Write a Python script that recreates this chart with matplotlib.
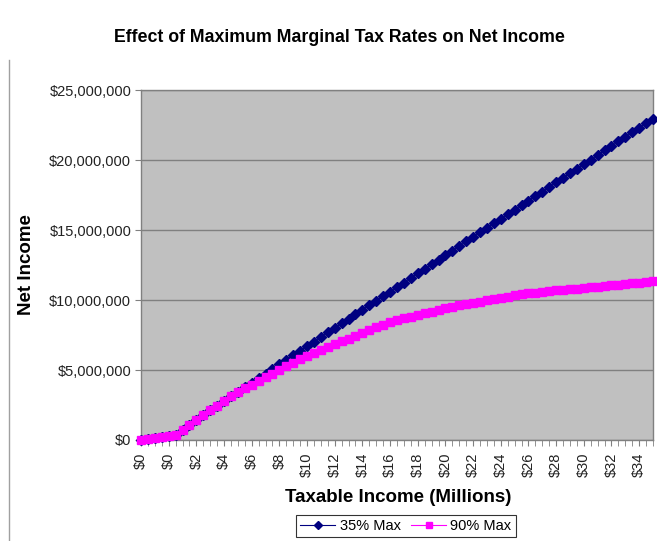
import matplotlib
matplotlib.use("Agg")
import matplotlib.pyplot as plt
from matplotlib.ticker import FuncFormatter, FixedLocator

plt.rcParams['font.family'] = ['Liberation Sans', 'DejaVu Sans']

# Taxable income in millions of dollars (category axis)
taxable_millions = [0.0, 0.1, 0.2, 0.3, 0.4,
                    0.5, 1.0, 1.5, 2.0, 2.5, 3.0, 3.5, 4.0, 4.5, 5.0,
                    5.5, 6.0, 6.5, 7.0, 7.5, 8.0, 8.5, 9.0, 9.5, 10.0,
                    10.5, 11.0, 11.5, 12.0, 12.5, 13.0, 13.5, 14.0, 14.5, 15.0,
                    15.5, 16.0, 16.5, 17.0, 17.5, 18.0, 18.5, 19.0, 19.5, 20.0,
                    20.5, 21.0, 21.5, 22.0, 22.5, 23.0, 23.5, 24.0, 24.5, 25.0,
                    25.5, 26.0, 26.5, 27.0, 27.5, 28.0, 28.5, 29.0, 29.5, 30.0,
                    30.5, 31.0, 31.5, 32.0, 32.5, 33.0, 33.5, 34.0, 34.5, 35.0]

# Net income in millions of dollars, 35% top marginal rate
net_35_max = [0.00, 0.08, 0.16, 0.24, 0.31,
              0.38, 0.74, 1.09, 1.44, 1.78, 2.12, 2.46, 2.79, 3.12, 3.45,
              3.78, 4.10, 4.43, 4.75, 5.08, 5.40, 5.73, 6.05, 6.38, 6.70,
              7.03, 7.35, 7.68, 8.00, 8.33, 8.65, 8.98, 9.30, 9.63, 9.95,
              10.28, 10.60, 10.93, 11.25, 11.58, 11.90, 12.23, 12.55, 12.88, 13.20,
              13.53, 13.85, 14.18, 14.50, 14.83, 15.15, 15.48, 15.80, 16.13, 16.45,
              16.78, 17.10, 17.43, 17.75, 18.08, 18.40, 18.73, 19.05, 19.38, 19.70,
              20.03, 20.35, 20.68, 21.00, 21.33, 21.65, 21.98, 22.30, 22.63, 22.95]

# Net income in millions of dollars, 90% top marginal rate
net_90_max = [0.00, 0.08, 0.16, 0.24, 0.31,
              0.38, 0.74, 1.09, 1.44, 1.78, 2.12, 2.46, 2.79, 3.11, 3.42,
              3.69, 3.96, 4.22, 4.48, 4.74, 5.00, 5.26, 5.51, 5.76, 6.01,
              6.23, 6.44, 6.65, 6.85, 7.05, 7.25, 7.45, 7.65, 7.85, 8.04,
              8.23, 8.41, 8.55, 8.68, 8.81, 8.93, 9.05, 9.17, 9.29, 9.41,
              9.52, 9.62, 9.71, 9.80, 9.89, 9.98, 10.07, 10.16, 10.25, 10.33,
              10.41, 10.48, 10.53, 10.58, 10.63, 10.68, 10.73, 10.78, 10.82, 10.87,
              10.92, 10.96, 11.01, 11.06, 11.10, 11.15, 11.20, 11.24, 11.29, 11.33]

series_names = ["35% Max", "90% Max"]
y_ticks = [0, 5_000_000, 10_000_000, 15_000_000, 20_000_000, 25_000_000]

navy = "#000080"
magenta = "#FF00FF"

fig = plt.figure(figsize=(6.57, 5.41), dpi=100)
ax = fig.add_axes([141 / 657, 1 - 440 / 541, 512 / 657, 350 / 541])
ax.set_facecolor("#C0C0C0")

cats = list(range(len(taxable_millions)))
y35 = [v * 1_000_000 for v in net_35_max]
y90 = [v * 1_000_000 for v in net_90_max]

ax.plot(cats, y35, color=navy, lw=0.8, marker="D", ms=4.8,
        mec=navy, mfc=navy, label=series_names[0], zorder=3, clip_on=False)
ax.plot(cats, y90, color=magenta, lw=0.8, marker="s", ms=5.5,
        mec=magenta, mfc=magenta, label=series_names[1], zorder=4, clip_on=False)

ax.set_xlim(0, len(cats) - 1)
ax.set_ylim(0, 25_000_000)

# y axis
ax.yaxis.set_major_locator(FixedLocator(y_ticks))
ax.yaxis.set_major_formatter(FuncFormatter(lambda v, p: "${:,.0f}".format(v)))
ax.grid(axis="y", color="#808080", lw=1.0)
ax.set_axisbelow(True)

# x axis: label every 4th category, tick at every category
label_idx = cats[::4]
ax.xaxis.set_major_locator(FixedLocator(label_idx))
ax.xaxis.set_minor_locator(FixedLocator(cats))
ax.set_xticklabels(["${:,.0f}".format(taxable_millions[i]) for i in label_idx],
                   rotation=90)

ax.tick_params(axis="both", which="both", direction="out", color="#808080",
               labelcolor="#222222", labelsize=10.5)
ax.tick_params(axis="x", which="both", length=4, pad=5)
ax.tick_params(axis="y", which="major", length=4, pad=3)

for side in ["left", "bottom", "top", "right"]:
    ax.spines[side].set_color("#808080")
    ax.spines[side].set_linewidth(1.0)

fig.text(0.5 * (112 + 567) / 657, 1 - 37 / 541,
         "Effect of Maximum Marginal Tax Rates on Net Income",
         ha="center", va="center", fontsize=12.8, fontweight="bold")
fig.text(27 / 657, 1 - 265 / 541, "Net Income", rotation=90,
         ha="center", va="center", fontsize=13.5, fontweight="bold")
fig.text(398 / 657, 1 - 497 / 541, "Taxable Income (Millions)",
         ha="center", va="center", fontsize=13.5, fontweight="bold")

leg = fig.legend(loc="center", bbox_to_anchor=(406 / 657, 1 - 526 / 541),
                 ncol=2, frameon=True, fancybox=False, fontsize=10.5,
                 handlelength=2.4, handletextpad=0.3, columnspacing=0.7,
                 borderpad=0.3, markerscale=0.9)
leg.get_frame().set_edgecolor("#000000")
leg.get_frame().set_linewidth(0.8)

# chart-area border on the left
fig.add_artist(plt.Line2D([9 / 657, 9 / 657], [0, 1 - 60 / 541],
                          color="#A0A0A0", lw=1.0))

fig.savefig("out.png", dpi=100, facecolor="white")
